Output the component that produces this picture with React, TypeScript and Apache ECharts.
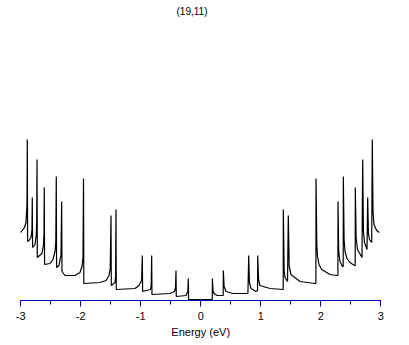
import React, { useEffect, useRef } from "react";
import * as echarts from "echarts";

// Title and axis
const chartTitle = "(19,11)";
const axisName = "Energy (eV)";
const energyTicks = [-3, -2, -1, 0, 1, 2, 3];

// Density of states (arbitrary units), valence side (E < 0)
const valenceDOS: [number, number][] = [
  [-3.0, 67], [-2.937, 72], [-2.912, 77], [-2.895, 95], [-2.89, 160], [-2.885, 58],
  [-2.862, 59], [-2.828, 62], [-2.812, 70], [-2.807, 102], [-2.802, 52],
  [-2.762, 55], [-2.74, 65], [-2.733, 80], [-2.728, 140], [-2.723, 42],
  [-2.645, 46], [-2.62, 55], [-2.612, 66], [-2.607, 112], [-2.602, 35],
  [-2.512, 36], [-2.462, 40], [-2.428, 48], [-2.415, 58], [-2.407, 123], [-2.402, 32],
  [-2.362, 34], [-2.328, 45], [-2.317, 98], [-2.312, 28],
  [-2.262, 24], [-2.095, 24], [-2.012, 27], [-1.978, 33], [-1.962, 42], [-1.953, 121], [-1.948, 16],
  [-1.678, 17], [-1.578, 19], [-1.528, 24], [-1.508, 31], [-1.495, 84], [-1.49, 14],
  [-1.428, 17], [-1.418, 24], [-1.412, 90], [-1.407, 10],
  [-1.095, 11], [-1.028, 14], [-0.985, 19], [-0.973, 44], [-0.968, 8],
  [-0.837, 10], [-0.825, 14], [-0.817, 44], [-0.812, 5],
  [-0.512, 6], [-0.437, 8], [-0.42, 12], [-0.412, 29], [-0.407, 3],
  [-0.245, 4], [-0.215, 8], [-0.207, 21], [-0.202, 0],
];

// Conduction side (E > 0)
const conductionDOS: [number, number][] = [
  [0.193, 0], [0.195, 21], [0.205, 9], [0.222, 6], [0.272, 4], [0.375, 4],
  [0.377, 29], [0.39, 13], [0.422, 8], [0.538, 6], [0.787, 6],
  [0.8, 44], [0.812, 17], [0.838, 11], [0.922, 8], [0.948, 9],
  [0.95, 44], [0.965, 20], [0.988, 14], [1.155, 11], [1.375, 10],
  [1.377, 90], [1.39, 30], [1.405, 22], [1.447, 18], [1.458, 18],
  [1.46, 84], [1.475, 33], [1.505, 25], [1.655, 18], [1.905, 16], [1.92, 16],
  [1.922, 121], [1.935, 55], [1.947, 43], [1.972, 35], [2.017, 30], [2.155, 25], [2.272, 24], [2.287, 24],
  [2.288, 98], [2.3, 48], [2.322, 38], [2.363, 33], [2.375, 33],
  [2.377, 123], [2.39, 60], [2.405, 48], [2.438, 41], [2.488, 37], [2.563, 34], [2.575, 34],
  [2.577, 112], [2.59, 62], [2.613, 50], [2.688, 42], [2.698, 42],
  [2.7, 140], [2.712, 68], [2.73, 57], [2.772, 50], [2.782, 50],
  [2.783, 102], [2.795, 66], [2.813, 60], [2.85, 57], [2.858, 57],
  [2.86, 160], [2.872, 88], [2.888, 75], [2.933, 69], [2.977, 67],
];

export default function App() {
  const ref = useRef<HTMLDivElement>(null);
  useEffect(() => {
    if (!ref.current) return;
    const chart = echarts.init(ref.current, null, { renderer: "svg" });
    const axisBlue = "#0000c0";
    chart.setOption({
      animation: false,
      backgroundColor: "#ffffff",
      title: {
        text: chartTitle,
        left: 187,
        top: 1,
        textAlign: "center",
        textStyle: { fontSize: 10, fontWeight: "normal", color: "#000", fontFamily: "Liberation Sans, Arial, sans-serif" },
      },
      grid: { left: 20.7, right: 28.3, top: 100.5, bottom: 44.5, containLabel: false },
      xAxis: {
        type: "value",
        min: energyTicks[0],
        max: energyTicks[energyTicks.length - 1],
        interval: 1,
        name: axisName,
        nameLocation: "middle",
        nameGap: 25,
        nameTextStyle: { fontSize: 11, color: "#000", fontFamily: "Liberation Sans, Arial, sans-serif" },
        axisLine: { show: true, onZero: false, lineStyle: { color: axisBlue, width: 1 } },
        axisTick: { show: true, inside: false, length: 6, lineStyle: { color: axisBlue, width: 1 } },
        minorTick: { show: true, splitNumber: 2, length: 4, lineStyle: { color: axisBlue, width: 1 } },
        axisLabel: { margin: 10, fontSize: 11, color: "#000", fontFamily: "Liberation Sans, Arial, sans-serif" },
        splitLine: { show: false },
        minorSplitLine: { show: false },
      },
      yAxis: {
        type: "value",
        min: -1,
        max: 199,
        show: false,
        splitLine: { show: false },
      },
      series: [
        {
          type: "line",
          data: [...valenceDOS, ...conductionDOS],
          showSymbol: false,
          symbol: "none",
          lineStyle: { color: "#000", width: 1.2 },
          z: 3,
        },
      ],
    });
    return () => chart.dispose();
  }, []);
  return (
    <div
      ref={ref}
      style={{ position: "fixed", left: 0, top: 0, width: 409, height: 345, background: "#fff" }}
    />
  );
}
